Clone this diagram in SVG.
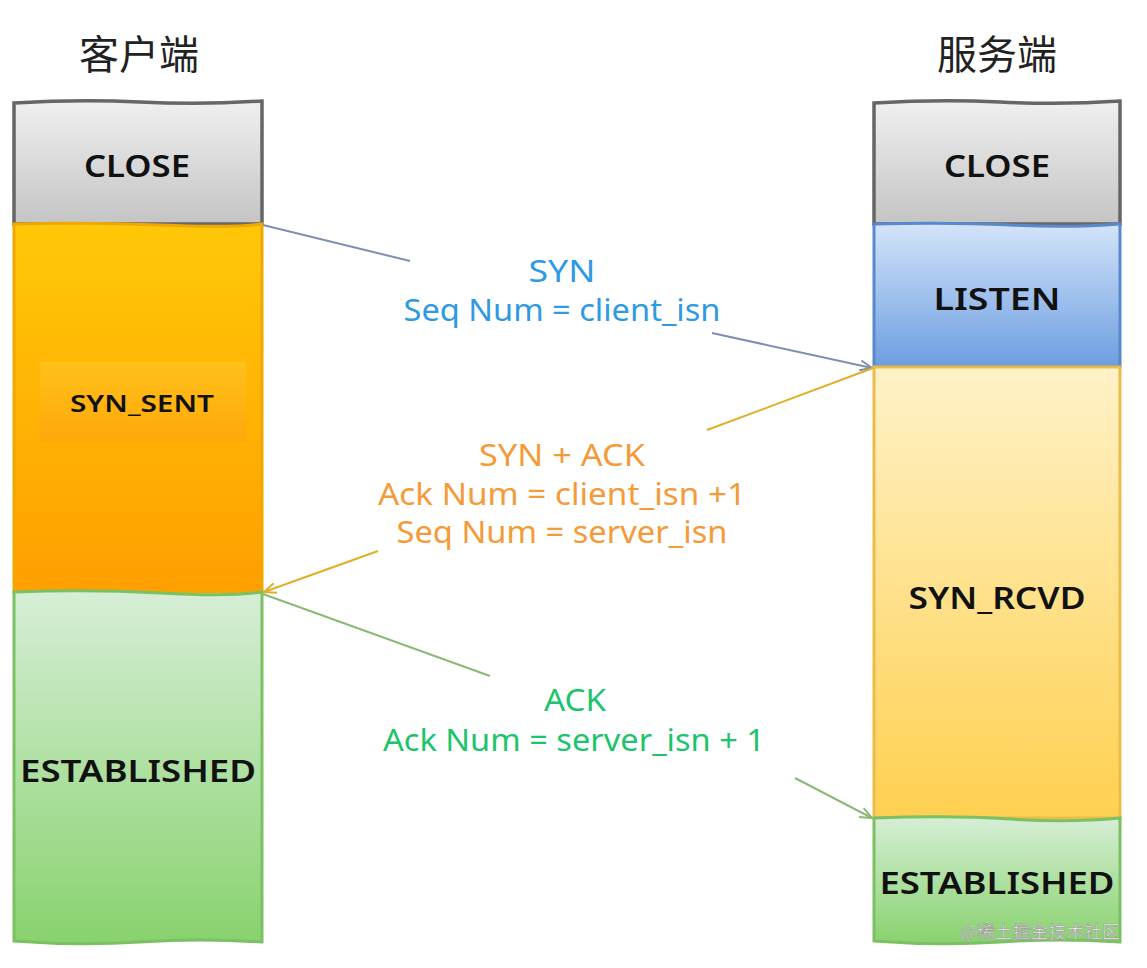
<svg xmlns="http://www.w3.org/2000/svg" width="1147" height="968" viewBox="0 0 1147 968">
<defs>
<linearGradient id="gClose" x1="0" y1="0" x2="0" y2="1"><stop offset="0" stop-color="#f0f0f0"/><stop offset="1" stop-color="#c4c4c4"/></linearGradient>
<linearGradient id="gOrange" x1="0" y1="0" x2="0" y2="1"><stop offset="0" stop-color="#ffc808"/><stop offset="1" stop-color="#ff9f00"/></linearGradient>
<linearGradient id="gInner" x1="0" y1="0" x2="0" y2="1"><stop offset="0" stop-color="#ffc21c"/><stop offset="1" stop-color="#ffa70a"/></linearGradient>
<linearGradient id="gGreen" x1="0" y1="0" x2="0" y2="1"><stop offset="0" stop-color="#d6eed6"/><stop offset="1" stop-color="#88d26e"/></linearGradient>
<linearGradient id="gBlue" x1="0" y1="0" x2="0" y2="1"><stop offset="0" stop-color="#d4e4fa"/><stop offset="1" stop-color="#6c9ee0"/></linearGradient>
<linearGradient id="gYellow" x1="0" y1="0" x2="0" y2="1"><stop offset="0" stop-color="#fff2c8"/><stop offset="1" stop-color="#ffd050"/></linearGradient>
<marker id="aBlue" markerWidth="14" markerHeight="12" refX="13" refY="6" orient="auto" markerUnits="userSpaceOnUse"><path d="M1,1 L13,6 L1,11" fill="none" stroke="#7f8fb0" stroke-width="2"/></marker>
<marker id="aGold" markerWidth="14" markerHeight="12" refX="13" refY="6" orient="auto" markerUnits="userSpaceOnUse"><path d="M1,1 L13,6 L1,11" fill="none" stroke="#e0ae28" stroke-width="2"/></marker>
<marker id="aGreen" markerWidth="14" markerHeight="12" refX="13" refY="6" orient="auto" markerUnits="userSpaceOnUse"><path d="M1,1 L13,6 L1,11" fill="none" stroke="#8cb878" stroke-width="2"/></marker>
</defs>
<style>
.title{font-family:"Noto Sans CJK SC","Noto Sans",sans-serif;font-size:40px;fill:#222;text-anchor:middle}
.lbl{font-family:"Noto Sans","DejaVu Sans",sans-serif;font-weight:600;fill:#111;text-anchor:middle}
.msg{font-family:"Noto Sans","DejaVu Sans",sans-serif;font-size:30px;text-anchor:middle}
.blue{fill:#2e9ae4}.orange{fill:#f69a38}.green{fill:#1cc46c}
.conn{fill:none;stroke-width:2}
.wm{font-family:"Noto Sans CJK SC",sans-serif;font-size:17px;fill:#eeeeee;stroke:#9a9a9a;stroke-width:0.6}
</style>
<text class="title" x="139" y="69">客户端</text>
<text class="title" x="997" y="69">服务端</text>

<g id="client-close">
<path d="M14,103 Q80,99 140,102 T262,101 L262,224 L14,224 Z" fill="url(#gClose)" stroke="#666" stroke-width="3.5"/>
<text class="lbl" x="137" y="177" font-size="31" textLength="106" lengthAdjust="spacingAndGlyphs">CLOSE</text>
</g>
<g id="client-syn-sent">
<path d="M14,224 Q90,222 160,225 T262,224 L262,592 L14,592 Z" fill="url(#gOrange)" stroke="#f0a800" stroke-width="3"/>
<rect x="40" y="362" width="206" height="80" fill="url(#gInner)" opacity="0.9"/>
<text class="lbl" x="142" y="412" font-size="24" textLength="144" lengthAdjust="spacingAndGlyphs">SYN_SENT</text>
</g>
<g id="client-established">
<path d="M14,592 Q90,589 160,593 T262,592 L262,942 Q200,938 140,942 T14,941 Z" fill="url(#gGreen)" stroke="#7cc064" stroke-width="3"/>
<text class="lbl" x="138" y="782" font-size="30" textLength="236" lengthAdjust="spacingAndGlyphs">ESTABLISHED</text>
</g>

<g id="server-close">
<path d="M874,103 Q940,99 1000,102 T1120,101 L1120,224 L874,224 Z" fill="url(#gClose)" stroke="#666" stroke-width="3.5"/>
<text class="lbl" x="997" y="177" font-size="31" textLength="106" lengthAdjust="spacingAndGlyphs">CLOSE</text>
</g>
<g id="server-listen">
<path d="M874,224 Q950,222 1010,225 T1120,224 L1120,367 L874,367 Z" fill="url(#gBlue)" stroke="#5a88cc" stroke-width="3"/>
<text class="lbl" x="997" y="310" font-size="30" textLength="127" lengthAdjust="spacingAndGlyphs">LISTEN</text>
</g>
<g id="server-syn-rcvd">
<path d="M874,367 L1120,367 L1120,818 L874,818 Z" fill="url(#gYellow)" stroke="#ecbc48" stroke-width="3"/>
<text class="lbl" x="997" y="609" font-size="30" textLength="177" lengthAdjust="spacingAndGlyphs">SYN_RCVD</text>
</g>
<g id="server-established">
<path d="M874,818 Q950,815 1010,819 T1120,818 L1120,942 Q1060,938 1000,942 T874,941 Z" fill="url(#gGreen)" stroke="#7cc064" stroke-width="3"/>
<text class="lbl" x="997" y="894" font-size="30" textLength="235" lengthAdjust="spacingAndGlyphs">ESTABLISHED</text>
</g>

<g id="connectors">
<line class="conn" x1="263" y1="225" x2="410" y2="261" stroke="#7f8fb0"/>
<line class="conn" x1="712" y1="333" x2="872" y2="368" stroke="#7f8fb0" marker-end="url(#aBlue)"/>
<line class="conn" x1="873" y1="368" x2="707" y2="430" stroke="#e0ae28"/>
<line class="conn" x1="378" y1="551" x2="264" y2="592" stroke="#e0ae28" marker-end="url(#aGold)"/>
<line class="conn" x1="263" y1="594" x2="490" y2="676" stroke="#8cb878"/>
<line class="conn" x1="795" y1="778" x2="872" y2="818" stroke="#8cb878" marker-end="url(#aGreen)"/>
</g>

<g id="labels">
<text class="msg blue" x="562" y="282" textLength="67" lengthAdjust="spacingAndGlyphs">SYN</text>
<text class="msg blue" x="562" y="321" textLength="317" lengthAdjust="spacingAndGlyphs">Seq Num = client_isn</text>
<text class="msg orange" x="562" y="466" textLength="166" lengthAdjust="spacingAndGlyphs">SYN + ACK</text>
<text class="msg orange" x="562" y="505" textLength="368" lengthAdjust="spacingAndGlyphs">Ack Num =  client_isn +1</text>
<text class="msg orange" x="562" y="543" textLength="331" lengthAdjust="spacingAndGlyphs">Seq Num = server_isn</text>
<text class="msg green" x="575" y="711" textLength="62" lengthAdjust="spacingAndGlyphs">ACK</text>
<text class="msg green" x="574" y="751" textLength="382" lengthAdjust="spacingAndGlyphs">Ack Num = server_isn + 1</text>
</g>
<text class="wm" x="960" y="938" textLength="160" lengthAdjust="spacingAndGlyphs">@稀土掘金技术社区</text>
</svg>
